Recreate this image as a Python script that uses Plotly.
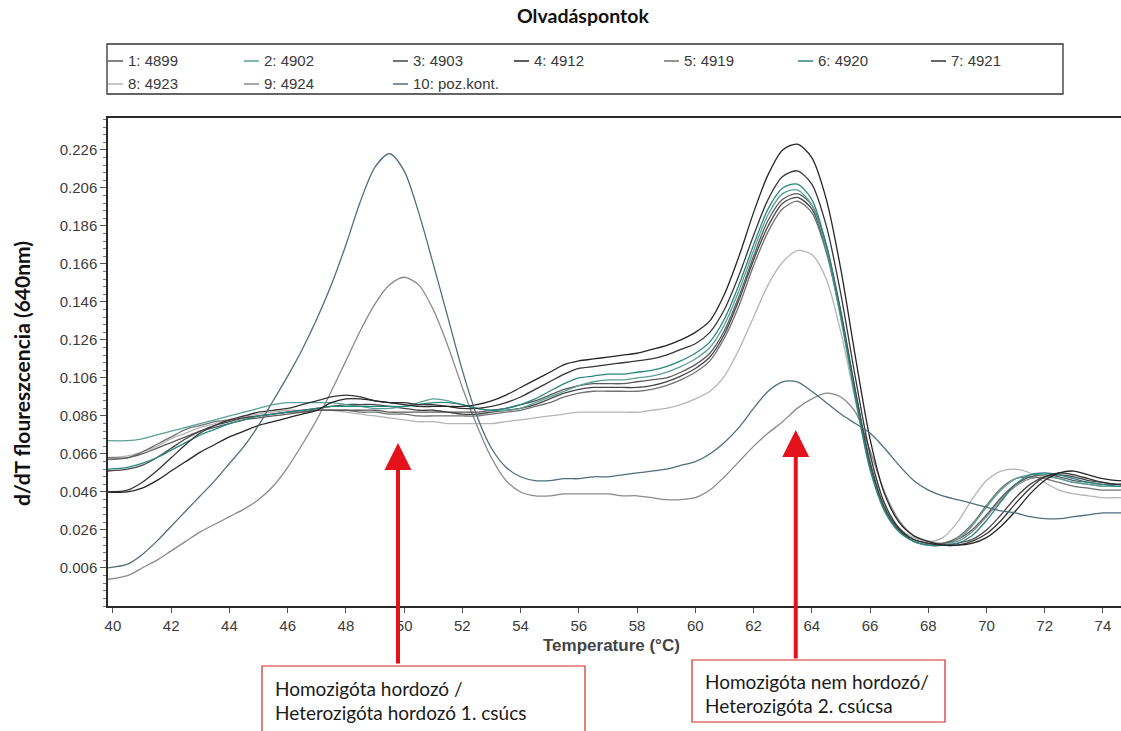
import plotly.graph_objects as go

# Temperature grid (°C) shared by all melting curves
TEMPS = [39.8] + [40.5 + 0.5 * i for i in range(70)]

SAMPLE_NAMES = ["1: 4899", "2: 4902", "3: 4903", "4: 4912", "5: 4919",
                "6: 4920", "7: 4921", "8: 4923", "9: 4924", "10: poz.kont."]
SAMPLE_COLORS = ["#5b5b5b", "#5aa096", "#454545", "#262626", "#727272",
                 "#2b8580", "#363636", "#b5b5b5", "#8a8a8a", "#4f6f7d"]

# -d(F)/dT values, 640 nm channel
S1_4899 = [0.064, 0.064, 0.066, 0.069, 0.072, 0.075, 0.078, 0.080, 0.082, 0.084, 0.085, 0.086, 0.087, 0.088, 0.089,
           0.089, 0.089, 0.089, 0.089, 0.088, 0.088, 0.088, 0.088, 0.088, 0.088, 0.088, 0.089,
           0.090, 0.092, 0.094, 0.097, 0.100, 0.102, 0.103, 0.103, 0.103, 0.104, 0.105, 0.106, 0.109, 0.113,
           0.119, 0.131, 0.149, 0.170, 0.189, 0.200, 0.203,
           0.197, 0.176, 0.141, 0.099, 0.062, 0.038, 0.026, 0.021, 0.019,
           0.019, 0.021, 0.026, 0.034, 0.043, 0.050, 0.054, 0.055, 0.054, 0.052, 0.051, 0.050, 0.050, 0.050]
S2_4902 = [0.073, 0.073, 0.074, 0.076, 0.078, 0.080, 0.082, 0.084, 0.086, 0.088, 0.090, 0.092, 0.093, 0.093, 0.093,
           0.093, 0.092, 0.091, 0.090, 0.090, 0.091, 0.093, 0.095, 0.094, 0.092, 0.090, 0.089,
           0.089, 0.090, 0.093, 0.096, 0.099, 0.102, 0.104, 0.105, 0.105, 0.106, 0.107, 0.109, 0.112, 0.116,
           0.122, 0.134, 0.152, 0.173, 0.192, 0.203, 0.205,
           0.197, 0.174, 0.137, 0.095, 0.058, 0.036, 0.025, 0.020, 0.018,
           0.018, 0.021, 0.028, 0.038, 0.047, 0.053, 0.055, 0.055, 0.053, 0.051, 0.050, 0.049, 0.049, 0.049]
S3_4903 = [0.057, 0.058, 0.060, 0.064, 0.069, 0.074, 0.078, 0.081, 0.083, 0.085, 0.086, 0.087, 0.088, 0.089, 0.090,
           0.091, 0.092, 0.092, 0.092, 0.091, 0.090, 0.089, 0.089, 0.088, 0.087, 0.087, 0.088,
           0.089, 0.090, 0.092, 0.095, 0.098, 0.100, 0.101, 0.101, 0.101, 0.101, 0.102, 0.104, 0.107, 0.111,
           0.117, 0.129, 0.147, 0.168, 0.186, 0.198, 0.201,
           0.195, 0.174, 0.140, 0.099, 0.061, 0.037, 0.026, 0.020, 0.018,
           0.018, 0.019, 0.021, 0.026, 0.034, 0.043, 0.050, 0.054, 0.055, 0.054, 0.052, 0.051, 0.050, 0.050]
S4_4912 = [0.046, 0.046, 0.048, 0.052, 0.057, 0.062, 0.067, 0.071, 0.075, 0.078, 0.081, 0.083, 0.085, 0.087, 0.089,
           0.093, 0.095, 0.095, 0.094, 0.093, 0.092, 0.091, 0.091, 0.091, 0.091, 0.092, 0.094,
           0.097, 0.101, 0.105, 0.109, 0.113, 0.115, 0.116, 0.117, 0.118, 0.119, 0.121, 0.123, 0.126, 0.130,
           0.136, 0.150, 0.170, 0.193, 0.213, 0.226, 0.229,
           0.222, 0.200, 0.163, 0.117, 0.074, 0.045, 0.030, 0.023, 0.020,
           0.018, 0.018, 0.019, 0.022, 0.028, 0.036, 0.045, 0.052, 0.056, 0.057, 0.055, 0.053, 0.052, 0.052]
S5_4919 = [0.063, 0.064, 0.067, 0.071, 0.075, 0.079, 0.081, 0.083, 0.084, 0.085, 0.086, 0.087, 0.088, 0.088, 0.089,
           0.089, 0.089, 0.088, 0.088, 0.087, 0.087, 0.086, 0.086, 0.086, 0.086, 0.086, 0.087,
           0.088, 0.089, 0.091, 0.093, 0.096, 0.098, 0.099, 0.099, 0.099, 0.099, 0.100, 0.102, 0.105, 0.109,
           0.115, 0.127, 0.144, 0.165, 0.183, 0.195, 0.199,
           0.193, 0.172, 0.138, 0.097, 0.060, 0.037, 0.026, 0.021, 0.019,
           0.019, 0.022, 0.029, 0.039, 0.048, 0.053, 0.054, 0.053, 0.051, 0.049, 0.048, 0.047, 0.047, 0.047]
S6_4920 = [0.058, 0.059, 0.061, 0.064, 0.068, 0.072, 0.076, 0.079, 0.082, 0.084, 0.086, 0.087, 0.088, 0.089, 0.090,
           0.091, 0.091, 0.091, 0.091, 0.091, 0.091, 0.092, 0.093, 0.093, 0.092, 0.090, 0.089,
           0.090, 0.092, 0.095, 0.099, 0.103, 0.106, 0.107, 0.108, 0.108, 0.109, 0.110, 0.112, 0.115, 0.119,
           0.125, 0.137, 0.155, 0.176, 0.195, 0.206, 0.208,
           0.200, 0.176, 0.139, 0.096, 0.058, 0.036, 0.025, 0.020, 0.018,
           0.018, 0.019, 0.023, 0.031, 0.041, 0.050, 0.055, 0.056, 0.055, 0.053, 0.051, 0.050, 0.049, 0.049]
S7_4921 = [0.046, 0.047, 0.051, 0.057, 0.064, 0.071, 0.077, 0.081, 0.084, 0.086, 0.088, 0.089, 0.090, 0.092, 0.094,
           0.096, 0.097, 0.096, 0.094, 0.093, 0.093, 0.092, 0.092, 0.091, 0.090, 0.090, 0.091,
           0.093, 0.096, 0.100, 0.104, 0.108, 0.111, 0.112, 0.113, 0.114, 0.115, 0.116, 0.118, 0.121, 0.124,
           0.130, 0.142, 0.160, 0.181, 0.200, 0.212, 0.215,
           0.208, 0.186, 0.150, 0.106, 0.066, 0.040, 0.027, 0.021, 0.019,
           0.018, 0.018, 0.020, 0.024, 0.031, 0.040, 0.048, 0.054, 0.056, 0.055, 0.053, 0.051, 0.050, 0.050]
S8_4923 = [0.064, 0.065, 0.067, 0.070, 0.074, 0.077, 0.080, 0.082, 0.084, 0.086, 0.087, 0.088, 0.089, 0.089, 0.089,
           0.089, 0.088, 0.087, 0.086, 0.085, 0.084, 0.083, 0.083, 0.082, 0.082, 0.082, 0.082,
           0.083, 0.084, 0.085, 0.086, 0.087, 0.088, 0.088, 0.088, 0.088, 0.088, 0.089, 0.090, 0.092, 0.095,
           0.099, 0.107, 0.121, 0.138, 0.155, 0.167, 0.173,
           0.171, 0.158, 0.130, 0.094, 0.060, 0.038, 0.027, 0.022, 0.020,
           0.022, 0.030, 0.042, 0.052, 0.057, 0.058, 0.056, 0.051, 0.047, 0.045, 0.044, 0.043, 0.043, 0.043]
S9_4924 = [0.000, 0.002, 0.006, 0.010, 0.015, 0.020, 0.025, 0.029, 0.033, 0.037, 0.042, 0.049, 0.059, 0.071, 0.084,
           0.099, 0.115, 0.131, 0.145, 0.155, 0.159, 0.155, 0.142, 0.123, 0.101, 0.081, 0.064,
           0.052, 0.046, 0.044, 0.044, 0.045, 0.045, 0.045, 0.045, 0.044, 0.044, 0.043, 0.042, 0.042, 0.043,
           0.047, 0.054, 0.062, 0.070, 0.077, 0.083, 0.090,
           0.095, 0.098, 0.096, 0.088, 0.068, 0.046, 0.031, 0.023, 0.020,
           0.019, 0.020, 0.025, 0.033, 0.042, 0.049, 0.053, 0.054, 0.053, 0.051, 0.050, 0.049, 0.049, 0.049]
S10_POZ = [0.006, 0.008, 0.013, 0.020, 0.028, 0.036, 0.044, 0.052, 0.061, 0.070, 0.081, 0.094, 0.107, 0.121, 0.137,
           0.155, 0.176, 0.199, 0.217, 0.224, 0.215, 0.193, 0.166, 0.138, 0.110, 0.086, 0.069,
           0.059, 0.054, 0.052, 0.052, 0.053, 0.053, 0.054, 0.054, 0.055, 0.056, 0.057, 0.058, 0.060, 0.062,
           0.066, 0.072, 0.080, 0.090, 0.099, 0.104, 0.104,
           0.099, 0.093, 0.087, 0.082, 0.077, 0.069, 0.060, 0.052, 0.047,
           0.044, 0.042, 0.040, 0.038, 0.036, 0.035, 0.033, 0.032, 0.032, 0.033, 0.034, 0.035, 0.035, 0.035]

SERIES = [S1_4899, S2_4902, S3_4903, S4_4912, S5_4919,
          S6_4920, S7_4921, S8_4923, S9_4924, S10_POZ]
DRAW_ORDER = [7, 8, 4, 0, 2, 1, 5, 6, 3, 9]

X_TICKS = list(range(40, 75, 2))
Y_TICKS = [0.006, 0.026, 0.046, 0.066, 0.086, 0.106, 0.126, 0.146, 0.166, 0.186, 0.206, 0.226]

CHART_TITLE = "Olvadáspontok"
X_TITLE = "Temperature (°C)"
Y_TITLE = "d/dT floureszcencia (640nm)"
NOTE_1 = ["Homozigóta hordozó /", "Heterozigóta hordozó 1. csúcs"]
NOTE_2 = ["Homozigóta nem hordozó/", "Heterozigóta 2. csúcsa"]
PEAK_1 = (49.79, 0.0718)
PEAK_2 = (63.45, 0.0786)

# ---- page geometry (pixels) ----
W, H = 1121, 731
L, R, T, B = 108, 0, 118, 125
PW, PH = W - L - R, H - T - B


def px(x):
    return (x - L) / PW


def py(y):
    return (H - B - y) / PH


fig = go.Figure()
for i in DRAW_ORDER:
    fig.add_trace(go.Scatter(
        x=TEMPS, y=SERIES[i], name=SAMPLE_NAMES[i], mode="lines",
        line=dict(color=SAMPLE_COLORS[i], width=1.3, shape="spline", smoothing=0.8),
        showlegend=False,
    ))

AX_FONT = dict(family="Liberation Sans, Arial, sans-serif", size=15, color="#3c3c3c")

fig.update_xaxes(
    range=[39.83, 74.62], tickvals=X_TICKS, ticks="outside", ticklen=5, tickcolor="#555",
    showline=True, linecolor="#2a2a2a", linewidth=1.5, mirror=True,
    showgrid=False, zeroline=False, tickfont=AX_FONT,
)
fig.update_yaxes(
    range=[-0.014, 0.2428], tickvals=Y_TICKS, tickformat=".3f", ticks="outside", ticklen=6,
    tickcolor="#555", showline=True, linecolor="#2a2a2a", linewidth=1.5,
    showgrid=False, zeroline=False, tickfont=AX_FONT,
    minor=dict(ticks="outside", ticklen=3, tick0=0.006, dtick=0.004, tickcolor="#777"),
)

shapes = []
annotations = []

# legend box with one short dash + label per sample
LEG_X = [108, 244, 393, 514, 664, 798, 931, 108, 244, 393]
LEG_Y = [61, 61, 61, 61, 61, 61, 61, 84, 84, 84]
shapes.append(dict(type="rect", xref="paper", yref="paper",
                   x0=px(107), x1=px(1063), y0=py(94), y1=py(44),
                   line=dict(color="#333", width=1.3)))
for name, color, lx, ly in zip(SAMPLE_NAMES, SAMPLE_COLORS, LEG_X, LEG_Y):
    shapes.append(dict(type="line", xref="paper", yref="paper",
                       x0=px(lx), x1=px(lx + 15), y0=py(ly), y1=py(ly),
                       line=dict(color=color, width=1.5)))
    annotations.append(dict(text=name, xref="paper", yref="paper", x=px(lx + 18), y=py(ly),
                            xanchor="left", yanchor="middle", showarrow=False,
                            font=dict(family="Liberation Sans, Arial", size=15, color="#3a3a3a")))

# titles
annotations.append(dict(text="<b>%s</b>" % CHART_TITLE, xref="paper", yref="paper",
                        x=px(583), y=py(16), xanchor="center", yanchor="middle", showarrow=False,
                        font=dict(family="Lato, Open Sans, sans-serif", size=19.5, color="#111")))
annotations.append(dict(text="<b>%s</b>" % Y_TITLE, xref="paper", yref="paper",
                        x=px(21), y=py(374), xanchor="center", yanchor="middle", showarrow=False,
                        textangle=-90,
                        font=dict(family="Lato, Open Sans, sans-serif", size=21, color="#111")))
annotations.append(dict(text="<b>%s</b>" % X_TITLE, xref="paper", yref="paper",
                        x=px(611), y=py(645), xanchor="center", yanchor="middle", showarrow=False,
                        font=dict(family="Liberation Sans, Arial", size=17, color="#444")))

# red arrows pointing at the two melting peaks
RED = "#e3121b"
for (tx, ty), tail in zip([PEAK_1, PEAK_2], [222, 230]):
    annotations.append(dict(x=tx, y=ty, xref="x", yref="y", text="", showarrow=True,
                            ax=0, ay=tail, arrowhead=2, arrowsize=1.35, arrowwidth=4,
                            arrowcolor=RED, standoff=0))

# note boxes
for (x0, x1, y0, y1), lines, tx, tys in [
    ((262, 585, 666, 745), NOTE_1, 273, [688, 712]),
    ((692, 945, 660, 722), NOTE_2, 703, [681, 705]),
]:
    shapes.append(dict(type="rect", xref="paper", yref="paper",
                       x0=px(x0), x1=px(x1), y0=py(y1), y1=py(y0),
                       line=dict(color="#d42a22", width=1.2), fillcolor="white", layer="above"))
    for line_text, ty in zip(lines, tys):
        annotations.append(dict(text=line_text, xref="paper", yref="paper", x=px(tx), y=py(ty),
                                xanchor="left", yanchor="middle", showarrow=False,
                                font=dict(family="Lato, Open Sans, sans-serif", size=19, color="#1a1a1a")))

fig.update_layout(
    width=W, height=H, margin=dict(l=L, r=R, t=T, b=B, autoexpand=False),
    paper_bgcolor="white", plot_bgcolor="white",
    shapes=shapes, annotations=annotations, showlegend=False,
)

fig.write_html("out.html")
